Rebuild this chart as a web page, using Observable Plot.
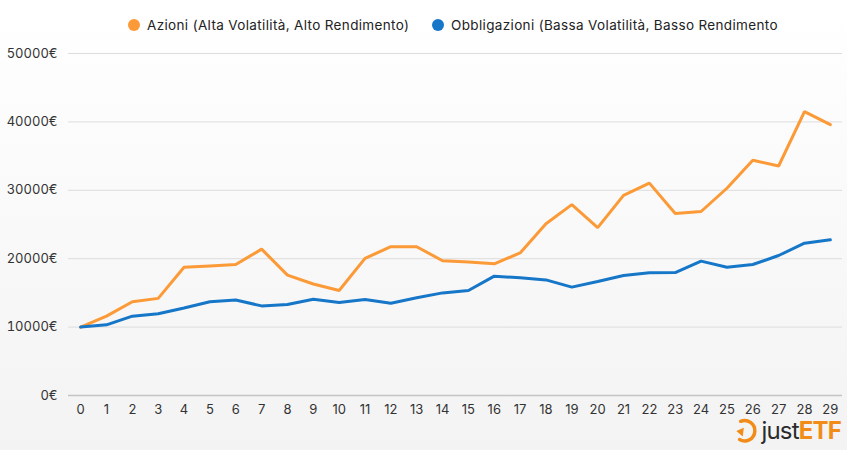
<!DOCTYPE html>
<html>
<head>
<meta charset="utf-8">
<script src="https://cdn.jsdelivr.net/npm/d3@7"></script>
<script src="https://cdn.jsdelivr.net/npm/@observablehq/plot@0.6"></script>
<style>
  html, body { margin: 0; padding: 0; }
  #wrap {
    position: relative; width: 847px; height: 450px; overflow: hidden;
    background: linear-gradient(to bottom, #ffffff 0%, #f3f3f3 100%);
    font-family: Inter, "Open Sans", sans-serif;
  }
  #legend { position: relative; height: 40px; }
  .item { position: absolute; top: 17px; display: flex; align-items: center; font-size: 13.5px; letter-spacing: 0.35px; color: #222; white-space: nowrap; }
  .dot { width: 12px; height: 12px; border-radius: 50%; margin-right: 7px; }
  #logo { position: absolute; right: 6px; top: 416px; display: flex; align-items: center; font-size: 24px; letter-spacing: -0.8px; }
  #logo .just { color: #2b2b2b; font-weight: 400; }
  #logo .etf { color: #f28c18; font-weight: 700; }
</style>
</head>
<body>
<div id="wrap">
  <div id="legend"></div>
  <div id="chart"></div>
  <div id="logo">
    <svg width="24" height="28" viewBox="0 0 22 26" style="margin-right:3px">
      <path d="M6 4 A9.5 9.5 0 1 1 5 21" fill="none" stroke="#f28c18" stroke-width="3.2" stroke-linecap="round"/>
      <path d="M2 13 L9 10 L8 18 Z" fill="#f28c18"/>
    </svg>
    <span class="just">just</span><span class="etf">ETF</span>
  </div>
</div>
<script>
const years = [0,1,2,3,4,5,6,7,8,9,10,11,12,13,14,15,16,17,18,19,20,21,22,23,24,25,26,27,28,29];
const azioni = [10000, 11600, 13700, 14200, 18750, 18950, 19150, 21400, 17600, 16300, 15350, 20050, 21750, 21750, 19700, 19500, 19250, 20850, 25100, 27900, 24550, 29250, 31050, 26600, 26900, 30300, 34400, 33550, 41500, 39600];
const obbligazioni = [10000, 10330, 11600, 11950, 12800, 13700, 13950, 13100, 13300, 14080, 13600, 14040, 13500, 14280, 15000, 15350, 17450, 17200, 16900, 15840, 16670, 17540, 17940, 17980, 19640, 18760, 19150, 20470, 22270, 22760];
const seriesNames = ["Azioni (Alta Volatilità, Alto Rendimento)", "Obbligazioni (Bassa Volatilità, Basso Rendimento"];
const seriesColors = ["#fb9a36", "#1676c8"];
const yTicks = [0, 10000, 20000, 30000, 40000, 50000];

const legend = document.getElementById("legend");
const legendLeft = [128, 432];
seriesNames.forEach((n, i) => {
  const it = document.createElement("div");
  it.className = "item";
  it.style.left = legendLeft[i] + "px";
  it.innerHTML = `<span class="dot" style="background:${seriesColors[i]}"></span><span>${n}</span>`;
  legend.appendChild(it);
});

const data = [];
years.forEach((y, i) => {
  data.push({year: y, value: azioni[i], series: seriesNames[0]});
  data.push({year: y, value: obbligazioni[i], series: seriesNames[1]});
});

const chart = Plot.plot({
  width: 847,
  height: 410,
  marginTop: 13,
  marginBottom: 55,
  marginLeft: 68,
  marginRight: 5,
  style: {background: "transparent", fontFamily: "Inter, 'Open Sans', sans-serif", fontSize: "13px", color: "#333"},
  x: {type: "point", domain: years, padding: 0.47, round: false, label: null, tickSize: 0, tickPadding: 9},
  y: {domain: [0, 50000], ticks: yTicks, label: null, tickSize: 0, tickPadding: 11, tickFormat: d => d + "€"},
  color: {domain: seriesNames, range: seriesColors},
  marks: [
    Plot.ruleY(yTicks.filter(d => d > 0), {stroke: "#dddddd", strokeWidth: 1}),
    Plot.ruleY([0], {stroke: "#c4c4c4", strokeWidth: 1.5}),
    Plot.lineY(data, {x: "year", y: "value", stroke: "series", strokeWidth: 3, strokeLinejoin: "miter"})
  ]
});
document.getElementById("chart").appendChild(chart);
</script>
</body>
</html>
